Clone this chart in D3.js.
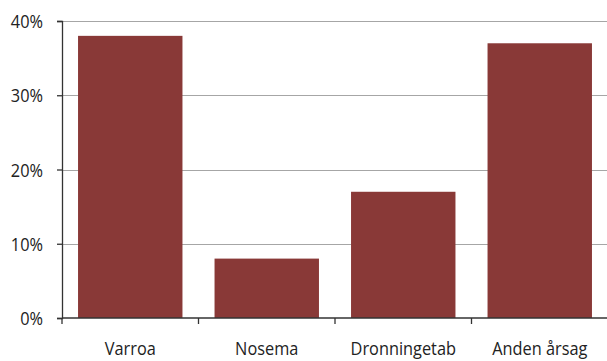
<!DOCTYPE html>
<html>
<head>
<meta charset="utf-8">
<script src="https://cdn.jsdelivr.net/npm/d3@7"></script>
<style>
  html, body { margin: 0; padding: 0; background: #fff; }
  svg { display: block; }
  text { font-family: "Open Sans", "Noto Sans", sans-serif; fill: #222; }
</style>
</head>
<body>
<script>
// Causes of colony loss (share of colonies)
const categories = ["Varroa", "Nosema", "Dronningetab", "Anden årsag"];
const shares = [0.38, 0.08, 0.17, 0.37];
const yTicks = [0, 0.1, 0.2, 0.3, 0.4];

const width = 607, height = 361;
const margin = { top: 21, right: 0, bottom: 43, left: 62 };
const fontSize = 19;
const squeeze = 0.86; // narrow the label glyphs horizontally

const svg = d3.select("body").append("svg")
  .attr("width", width)
  .attr("height", height);

const x = d3.scaleBand()
  .domain(categories)
  .range([margin.left, margin.left + 4 * 136.5])
  .paddingInner(0.235)
  .paddingOuter(0.1175);

const y = d3.scaleLinear()
  .domain([0, 0.4])
  .range([height - margin.bottom, margin.top]);

// horizontal gridlines
svg.append("g")
  .selectAll("line")
  .data(yTicks.filter(d => d > 0))
  .join("line")
  .attr("x1", margin.left)
  .attr("x2", width)
  .attr("y1", d => Math.round(y(d)) + 0.5)
  .attr("y2", d => Math.round(y(d)) + 0.5)
  .attr("stroke", "#a6a6a6")
  .attr("stroke-width", 1.2);

// bars
svg.append("g")
  .selectAll("rect")
  .data(categories)
  .join("rect")
  .attr("x", d => x(d))
  .attr("width", x.bandwidth())
  .attr("y", (d, i) => y(shares[i]))
  .attr("height", (d, i) => y(0) - y(shares[i]))
  .attr("fill", "#893937");

// y axis
const yAxis = svg.append("g")
  .attr("transform", `translate(${margin.left},0)`)
  .call(d3.axisLeft(y).tickValues(yTicks).tickFormat(d3.format(".0%")).tickSize(5));
yAxis.select(".domain").attr("stroke", "#333").attr("stroke-width", 1.3);
yAxis.selectAll(".tick line").attr("stroke", "#333").attr("stroke-width", 1.3);
yAxis.selectAll(".tick text")
  .attr("x", null)
  .attr("dy", null)
  .attr("transform", `translate(-19,6.5) scale(${squeeze},1)`)
  .style("font-size", fontSize + "px")
  .style("font-family", "'Open Sans', 'Noto Sans', sans-serif")
  .attr("fill", "#222");

// x axis with boundary ticks between categories
const xg = svg.append("g");
xg.append("line")
  .attr("x1", margin.left)
  .attr("x2", width)
  .attr("y1", y(0))
  .attr("y2", y(0))
  .attr("stroke", "#333")
  .attr("stroke-width", 1.3);
const step = x.step();
xg.selectAll("line.sep")
  .data(d3.range(categories.length + 1))
  .join("line")
  .attr("class", "sep")
  .attr("x1", i => margin.left + i * step)
  .attr("x2", i => margin.left + i * step)
  .attr("y1", y(0))
  .attr("y2", y(0) + 6)
  .attr("stroke", "#333")
  .attr("stroke-width", 1.3);
xg.selectAll("text")
  .data(categories)
  .join("text")
  .attr("transform", d => `translate(${x(d) + x.bandwidth() / 2},${y(0) + 37}) scale(${squeeze},1)`)
  .attr("text-anchor", "middle")
  .style("font-size", fontSize + "px")
  .text(d => d);
</script>
</body>
</html>
